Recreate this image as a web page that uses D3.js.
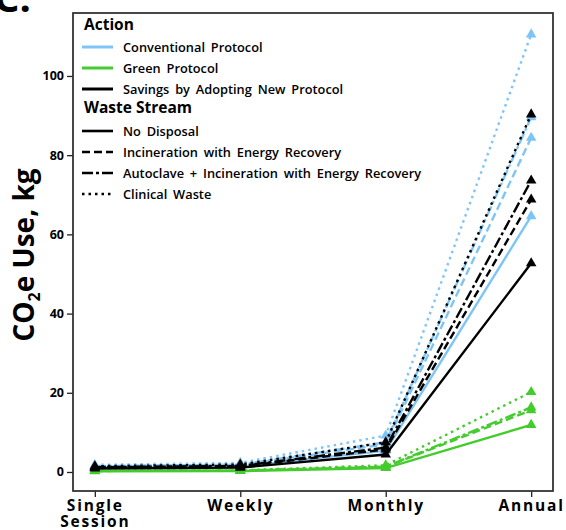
<!DOCTYPE html>
<html>
<head>
<meta charset="utf-8">
<script src="https://cdn.jsdelivr.net/npm/d3@7/dist/d3.min.js"></script>
<style>
  html, body { margin: 0; padding: 0; background: #fff; }
  svg { display: block; font-family: "Open Sans", "Liberation Sans", sans-serif; }
</style>
</head>
<body>
<svg id="chart" width="566" height="530"></svg>
<script>
// ---- data ----
const periods = ["Single Session", "Weekly", "Monthly", "Annual"];
const periodLabels = [["Single", "Session"], ["Weekly"], ["Monthly"], ["Annual"]];
const actions = ["Conventional Protocol", "Green Protocol", "Savings by Adopting New Protocol"];
const wasteStreams = ["No Disposal", "Incineration with Energy Recovery", "Autoclave + Incineration with Energy Recovery", "Clinical Waste"];
const yTicks = [0, 20, 40, 60, 80, 100];

// values per action, per waste stream, across periods (kg CO2e)
const conventionalValues = [
  [1.1, 1.35, 5.4, 64.6],
  [1.4, 1.75, 7.0, 84.4],
  [1.5, 1.85, 7.5, 89.6],
  [1.8, 2.3, 9.2, 110.5]
];
const greenValues = [
  [0.2, 0.25, 1.0, 11.9],
  [0.26, 0.33, 1.3, 15.6],
  [0.27, 0.34, 1.35, 16.3],
  [0.34, 0.42, 1.7, 20.2]
];
const savingsValues = [
  [0.9, 1.1, 4.4, 52.7],
  [1.14, 1.42, 5.7, 68.8],
  [1.23, 1.51, 6.15, 73.6],
  [1.46, 1.88, 7.5, 90.3]
];

// ---- styles ----
const actionColors = ["#7ec5f7", "#44cc2e", "#000000"];
const dashes = [null, "8,4", "11,3,3,3", "2.5,4"];

const svg = d3.select("#chart");
const L = 73, R = 553, T = 13, B = 491;

const x = d3.scalePoint().domain(periods).range([L, R]).padding(0.15);
const y = d3.scaleLinear().domain([-4.8, 115.9]).range([B, T]);

// panel letter
svg.append("text").attr("x", -6).attr("y", 12)
  .attr("font-size", 40).attr("font-weight", 700).text("C.");

// axes
const yAxis = svg.append("g").attr("transform", `translate(${L},0)`)
  .call(d3.axisLeft(y).tickValues(yTicks).tickSize(6).tickPadding(3));
yAxis.select(".domain").remove();
yAxis.selectAll("line").attr("stroke", "#222").attr("stroke-width", 1.3);
yAxis.selectAll("text").attr("font-size", 12.5).attr("font-weight", 700)
  .attr("font-family", "'Open Sans', sans-serif").attr("fill", "#000");

const xAxis = svg.append("g").attr("transform", `translate(0,${B})`)
  .call(d3.axisBottom(x).tickSize(6).tickFormat(""));
xAxis.select(".domain").remove();
xAxis.selectAll("line").attr("stroke", "#222").attr("stroke-width", 1.3);
xAxis.selectAll(".tick").each(function(d, i) {
  const t = d3.select(this).append("text")
    .attr("text-anchor", "middle").attr("fill", "#000")
    .attr("font-size", 15.5).attr("font-weight", 700)
    .attr("letter-spacing", "1.8px")
    .attr("font-family", "'Open Sans', sans-serif");
  periodLabels[i].forEach((s, k) => {
    t.append("tspan").attr("x", 0).attr("y", 20 + k * 16).text(s);
  });
});

// frame
svg.append("rect").attr("x", L).attr("y", T).attr("width", R - L).attr("height", B - T)
  .attr("fill", "none").attr("stroke", "#333").attr("stroke-width", 1.8);

// y title
const yt = svg.append("text")
  .attr("transform", "translate(34,255) rotate(-90)")
  .attr("text-anchor", "middle").attr("font-size", 28).attr("font-weight", 700);
yt.append("tspan").text("CO");
yt.append("tspan").attr("font-size", 16).attr("dy", 6).text("2");
yt.append("tspan").attr("dy", -6).text("e Use, kg");

// lines
const allValues = [conventionalValues, greenValues, savingsValues];
const line = d3.line().x((d, i) => x(periods[i])).y(d => y(d));
const tri = d3.symbol().type(d3.symbolTriangle).size(48);
const plot = svg.append("g");
allValues.forEach((series, a) => {
  series.forEach((vals, w) => {
    plot.append("path").attr("d", line(vals))
      .attr("fill", "none").attr("stroke", actionColors[a]).attr("stroke-width", 2.4)
      .attr("stroke-dasharray", dashes[w]);
    plot.selectAll(null).data(vals).enter().append("path")
      .attr("d", tri)
      .attr("transform", (d, i) => `translate(${x(periods[i])},${y(d)})`)
      .attr("fill", actionColors[a]);
  });
});

// legend
const lg = svg.append("g");
const lx0 = 82, lx1 = 113, tx = 123;
lg.append("text").attr("x", 84).attr("y", 30).attr("font-size", 15.5).attr("font-weight", 700).text("Action");
const aRows = [47, 68, 89];
actions.forEach((s, i) => {
  lg.append("line").attr("x1", lx0).attr("x2", lx1).attr("y1", aRows[i]).attr("y2", aRows[i])
    .attr("stroke", actionColors[i]).attr("stroke-width", 3);
  lg.append("text").attr("x", tx).attr("y", aRows[i] + 4.5).attr("font-size", 12.8)
    .attr("font-weight", 600).attr("word-spacing", "2.5px").text(s);
});
lg.append("text").attr("x", 84).attr("y", 113).attr("font-size", 15.5).attr("font-weight", 700).text("Waste Stream");
const wRows = [131, 152, 173, 194];
wasteStreams.forEach((s, i) => {
  lg.append("line").attr("x1", lx0).attr("x2", lx1).attr("y1", wRows[i]).attr("y2", wRows[i])
    .attr("stroke", "#000").attr("stroke-width", 2.6).attr("stroke-dasharray", dashes[i]);
  lg.append("text").attr("x", tx).attr("y", wRows[i] + 4.5).attr("font-size", 12.8)
    .attr("font-weight", 600).attr("word-spacing", "2.5px").text(s);
});
</script>
</body>
</html>
